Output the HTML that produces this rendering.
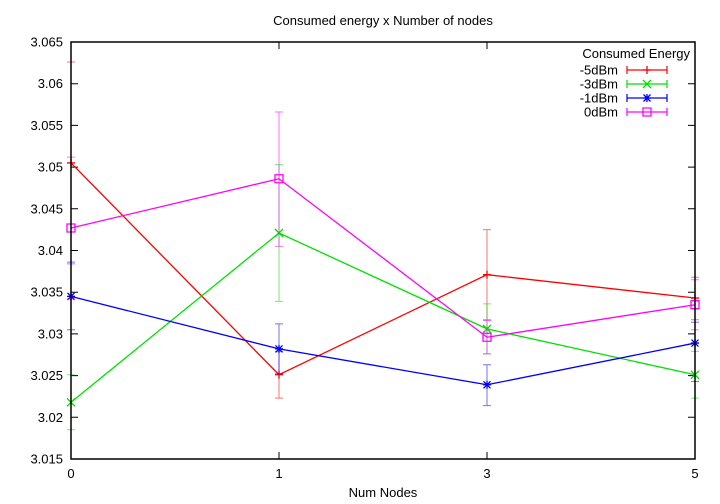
<!DOCTYPE html>
<html><head><meta charset="utf-8">
<style>
body{margin:0;background:#fff;}
svg{display:block;font-family:"Liberation Sans",sans-serif;}
</style></head>
<body>
<svg id="chart" width="720" height="504">
<text x="383" y="25" font-size="13" text-anchor="middle">Consumed energy x Number of nodes</text>
<text x="383" y="497" font-size="13" text-anchor="middle">Num Nodes</text>
<g id="axes"></g>
<g id="series"></g>
<g id="legend"></g>
<rect x="71" y="42" width="624" height="417" fill="none" stroke="#000" stroke-width="1.5"/>
</svg>
<script>
const categories = ["0","1","3","5"];
const yTicks = [3.015,3.02,3.025,3.03,3.035,3.04,3.045,3.05,3.055,3.06,3.065];
const yTickLabels = ["3.015","3.02","3.025","3.03","3.035","3.04","3.045","3.05","3.055","3.06","3.065"];
const seriesNames = ["-5dBm","-3dBm","-1dBm","0dBm"];
const seriesColors = ["#ff0000","#00e000","#0000ff","#ff00ff"];
const v5 = [3.0505,3.0251,3.0371,3.0343];
const v5lo = [3.0384,3.0223,3.0317,3.0317];
const v5hi = [3.0626,3.0279,3.0425,3.0368];
const v3 = [3.0218,3.0421,3.0306,3.0251];
const v3lo = [3.0185,3.0339,3.0276,3.0223];
const v3hi = [3.0251,3.0503,3.0336,3.0279];
const v1 = [3.0345,3.0282,3.0239,3.0289];
const v1lo = [3.0305,3.0252,3.0214,3.0243];
const v1hi = [3.0386,3.0312,3.0263,3.0314];
const v0 = [3.0427,3.0486,3.0296,3.0335];
const v0lo = [3.0342,3.0405,3.0276,3.0305];
const v0hi = [3.0512,3.0566,3.0316,3.0365];

const NS="http://www.w3.org/2000/svg";
const L=71,R=695,T=42,B=459,YMIN=3.015,YMAX=3.065;
const xs=i=>L+(R-L)*i/(categories.length-1);
const ys=v=>B-(v-YMIN)/(YMAX-YMIN)*(B-T);
function mk(tag,attrs,parent){const e=document.createElementNS(NS,tag);for(const k in attrs)e.setAttribute(k,attrs[k]);parent.appendChild(e);return e;}
const axes=document.getElementById('axes');
yTicks.forEach((t,i)=>{
  const y=ys(t);
  const tk=mk('path',{d:`M${L},${y}h7M${R},${y}h-7`,stroke:'#000','stroke-width':1},axes);
  
  
  const tx=mk('text',{x:63,y:y+4.5,'font-size':13,'text-anchor':'end'},axes);
  tx.textContent=yTickLabels[i];
  
  
});
categories.forEach((c,i)=>{
  const x=xs(i);
  const tk=mk('path',{d:`M${x},${B}v-7M${x},${T}v7`,stroke:'#000','stroke-width':1},axes);
  
  
  const tx=mk('text',{x:x,y:478,'font-size':13,'text-anchor':'middle'},axes);
  tx.textContent=c;
  
  
});
const data=[[v5,v5lo,v5hi],[v3,v3lo,v3hi],[v1,v1lo,v1hi],[v0,v0lo,v0hi]];
function marker(k,x,y,c,g){
  let d;
  if(k===0) d=`M${x-4},${y}h8M${x},${y-4}v8`;
  else if(k===1) d=`M${x-4},${y-4}l8,8M${x-4},${y+4}l8,-8`;
  else if(k===2) d=`M${x-4},${y}h8M${x},${y-4}v8M${x-3.5},${y-3.5}l7,7M${x-3.5},${y+3.5}l7,-7`;
  else d=`M${x-4},${y-4}h8v8h-8z`;
  return mk('path',{d:d,stroke:c,'stroke-width':1.3,fill:'none'},g);
}
const sg=document.getElementById('series');
data.forEach((s,k)=>{
  const c=seriesColors[k];
  const g=mk('g',{},sg);
  
  
  s[0].forEach((v,i)=>{
    const x=xs(i),y1=ys(s[1][i]),y2=ys(s[2][i]);
    const e=mk('path',{d:`M${x},${y1}V${y2}M${x-4},${y1}h8M${x-4},${y2}h8`,stroke:c,'stroke-width':1,opacity:0.55},g);
    
    
  });
  const pts=s[0].map((v,i)=>xs(i)+','+ys(v)).join(' ');
  const ln=mk('polyline',{points:pts,fill:'none',stroke:c,'stroke-width':1.3},g);
  
  
  s[0].forEach((v,i)=>{
    const m=marker(k,xs(i),ys(v),c,g);
    
    
  });
});
const lg=document.getElementById('legend');
const lt=mk('text',{x:690,y:58,'font-size':13,'text-anchor':'end'},lg);
lt.textContent='Consumed Energy';


seriesNames.forEach((n,k)=>{
  const y=70+k*14,c=seriesColors[k];
  const g=mk('g',{},lg);
  
  
  const t=mk('text',{x:618,y:y+4.5,'font-size':13,'text-anchor':'end'},g);
  t.textContent=n;
  mk('path',{d:`M627,${y}h40M627,${y-4}v8M667,${y-4}v8`,stroke:c,'stroke-width':1.2},g);
  marker(k,647,y,c,g);
});
</script>
</body></html>
